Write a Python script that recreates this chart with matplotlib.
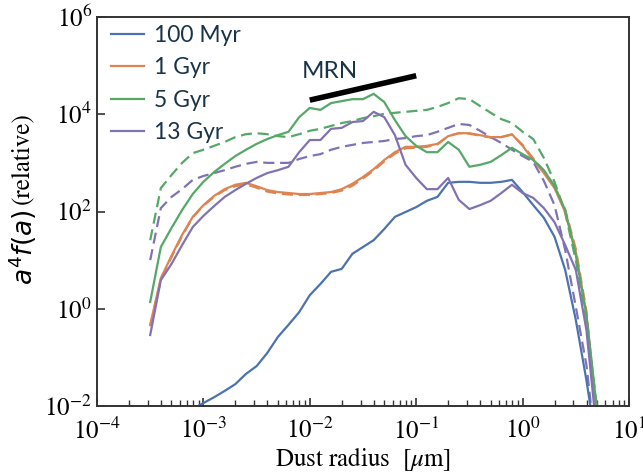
import numpy as np
import matplotlib
matplotlib.use('Agg')
import matplotlib.pyplot as plt
from matplotlib.lines import Line2D
from matplotlib.ticker import LogLocator, NullLocator, FixedLocator

# log10 of dust radius [micron]
log_radius = [-3.5, -3.4, -3.3, -3.2, -3.1, -3.0, -2.9, -2.8, -2.7, -2.6,
              -2.5, -2.4, -2.3, -2.2, -2.1, -2.0, -1.9, -1.8, -1.7, -1.6,
              -1.5, -1.4, -1.3, -1.2, -1.1, -1.0, -0.9, -0.8, -0.7, -0.6,
              -0.5, -0.4, -0.3, -0.2, -0.1, 0.0, 0.1, 0.2, 0.3, 0.4,
              0.5, 0.6, 0.7]

# log10 of a^4 f(a) (relative)
nan = float('nan')
myr100_solid = [nan, nan, nan, nan, -2.06, -1.94, -1.82, -1.69, -1.55, -1.34,
                -1.18, -0.91, -0.58, -0.33, -0.07, 0.28, 0.51, 0.76, 0.82, 1.13,
                1.27, 1.41, 1.64, 1.89, 1.99, 2.09, 2.22, 2.30, 2.59, 2.61,
                2.61, 2.59, 2.59, 2.61, 2.65, 2.40, 2.13, 1.87, 1.48, 0.80,
                -0.23, -1.47, -2.9]
gyr1_solid = [-0.33, 0.63, 1.09, 1.52, 1.89, 2.13, 2.32, 2.46, 2.55, 2.59,
              2.52, 2.44, 2.40, 2.38, 2.36, 2.36, 2.38, 2.40, 2.46, 2.57,
              2.71, 2.87, 3.06, 3.22, 3.33, 3.33, 3.35, 3.39, 3.55, 3.61,
              3.61, 3.57, 3.53, 3.53, 3.59, 3.35, 3.06, 2.79, 2.48, 1.99,
              1.17, -0.13, -2.4]
gyr1_dashed = [-0.36, 0.60, 1.06, 1.50, 1.88, 2.12, 2.30, 2.44, 2.52, 2.56,
               2.49, 2.41, 2.37, 2.35, 2.34, 2.34, 2.36, 2.38, 2.43, 2.53,
               2.68, 2.84, 3.03, 3.19, 3.30, 3.31, 3.33, 3.38, 3.55, 3.61,
               3.60, 3.56, 3.52, 3.53, 3.58, 3.37, 3.09, 2.83, 2.52, 2.04,
               1.23, -0.05, -2.3]
gyr5_solid = [0.14, 1.27, 1.66, 2.03, 2.36, 2.61, 2.81, 2.98, 3.14, 3.27,
              3.39, 3.49, 3.57, 3.64, 3.94, 4.13, 4.09, 4.23, 4.27, 4.31,
              4.31, 4.42, 4.25, 3.88, 3.55, 3.35, 3.22, 3.22, 3.43, 3.27,
              2.92, 2.96, 3.02, 3.16, 3.31, 3.18, 3.06, 2.85, 2.52, 2.03,
              1.11, -0.13, -2.1]
gyr5_dashed = [1.41, 2.48, 2.75, 3.00, 3.20, 3.27, 3.35, 3.43, 3.53, 3.59,
               3.61, 3.59, 3.55, 3.53, 3.59, 3.66, 3.70, 3.76, 3.82, 3.86,
               3.92, 3.96, 4.01, 4.03, 4.05, 4.07, 4.09, 4.15, 4.23, 4.33,
               4.31, 4.17, 4.03, 3.90, 3.82, 3.64, 3.49, 3.10, 2.61, 1.97,
               1.00, -0.23, -2.05]
gyr13_solid = [-0.54, 0.59, 0.92, 1.31, 1.68, 1.91, 2.11, 2.30, 2.44, 2.57,
               2.69, 2.79, 2.85, 2.92, 3.22, 3.47, 3.47, 3.70, 3.72, 3.84,
               3.86, 4.05, 3.94, 3.57, 2.96, 2.69, 2.46, 2.46, 2.69, 2.24,
               2.05, 2.13, 2.22, 2.38, 2.55, 2.38, 2.28, 2.07, 1.78, 1.31,
               0.80, -0.44, -2.6]
gyr13_dashed = [1.00, 2.07, 2.30, 2.46, 2.65, 2.73, 2.79, 2.85, 2.92, 2.98,
                3.02, 3.00, 3.00, 3.00, 3.08, 3.14, 3.18, 3.27, 3.33, 3.37,
                3.41, 3.43, 3.45, 3.49, 3.51, 3.55, 3.57, 3.64, 3.72, 3.80,
                3.78, 3.66, 3.53, 3.41, 3.27, 3.14, 3.02, 2.63, 2.13, 1.21,
                0.04, -1.16, -3.1]

labels = ['100 Myr', '1 Gyr', '5 Gyr', '13 Gyr']
colors = ['#4C72B0', '#DD8452', '#55A868', '#8172B3']

mrn_radius = [0.01, 0.1]
mrn_value = [1.95e4, 6.2e4]

plt.rcParams['font.family'] = 'STIXGeneral'
plt.rcParams['mathtext.fontset'] = 'stix'

fig = plt.figure(figsize=(6.43, 4.76), dpi=100)
ax = fig.add_axes([97 / 643, 1 - 406 / 476, 532 / 643, 389 / 476])

a = 10 ** np.array(log_radius)
lw = 1.6
dash = (0, (5, 2.6))

solid_sets = [myr100_solid, gyr1_solid, gyr5_solid, gyr13_solid]
dashed_sets = [None, gyr1_dashed, gyr5_dashed, gyr13_dashed]

for c, d in zip(colors, dashed_sets):
    if d is not None:
        ax.plot(a, 10 ** np.array(d), color=c, lw=lw, linestyle=dash)
for c, s in zip(colors, solid_sets):
    ax.plot(a, 10 ** np.array(s), color=c, lw=lw)

ax.plot(mrn_radius, mrn_value, color='black', lw=4, solid_capstyle='butt')
ax.text(10 ** -1.81, 10 ** 4.87, 'MRN', ha='center', va='center',
        fontsize=17.5, family='Lato', color='#1a3447')

ax.set_xscale('log')
ax.set_yscale('log')
ax.set_xlim(1e-4, 10)
ax.set_ylim(1e-2, 1e6)
ax.yaxis.set_major_locator(FixedLocator([1e-2, 1e0, 1e2, 1e4, 1e6]))
ax.yaxis.set_minor_locator(NullLocator())
ax.xaxis.set_major_locator(LogLocator(base=10, numticks=10))
ax.xaxis.set_minor_locator(LogLocator(base=10, subs=np.arange(2, 10), numticks=20))

ax.tick_params(which='both', direction='in', top=False, right=False,
               labelsize=18, color='#333333')
ax.tick_params(which='major', length=6, width=1.2)
ax.tick_params(which='minor', length=4, width=1.0)
ax.tick_params(axis='x', which='major', pad=9)
for sp in ax.spines.values():
    sp.set_color('#333333')
    sp.set_linewidth(1.4)

ax.set_xlabel(r'Dust radius  [$\mu$m]', fontsize=18, labelpad=0)
ax.text(-0.14, 0.505, r'$a^4 f(a)$', rotation=90, transform=ax.transAxes,
        ha='center', va='top', fontsize=19, math_fontfamily='dejavusans')
ax.text(-0.14, 0.52, '(relative)', rotation=90, transform=ax.transAxes,
        ha='center', va='bottom', fontsize=18)

handles = [Line2D([], [], color=c, lw=lw) for c in colors]
ax.legend(handles, labels, loc='upper left', bbox_to_anchor=(0.0, 1.015),
          frameon=False,
          prop={'family': 'Lato', 'size': 16.5}, labelcolor='#1a3447',
          handlelength=1.45, handletextpad=0.45, labelspacing=0.5,
          borderaxespad=0.2, borderpad=0.4)

fig.savefig('out.png', dpi=100)
